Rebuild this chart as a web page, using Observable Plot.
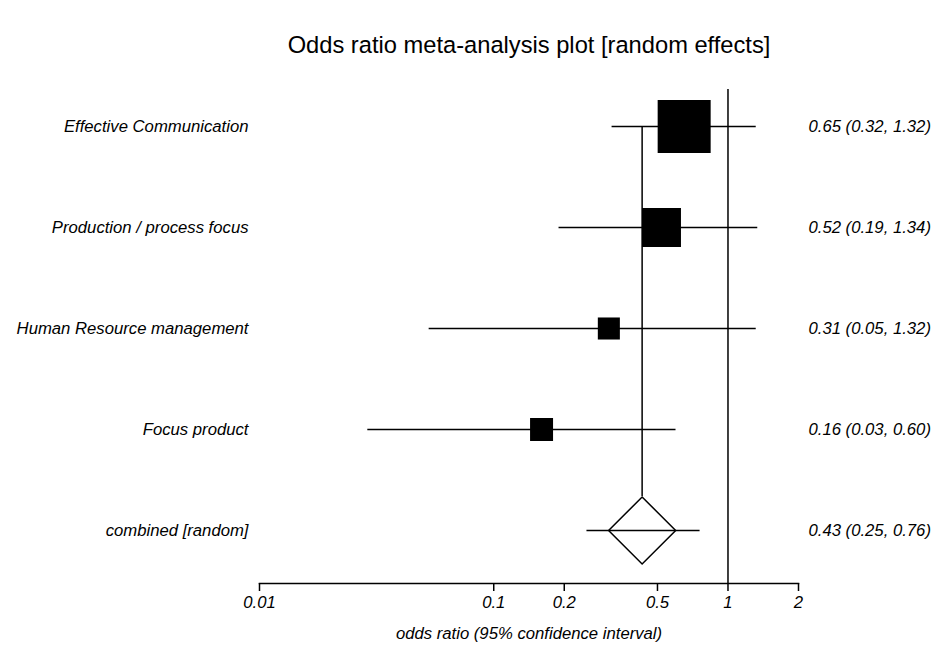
<!DOCTYPE html>
<html>
<head>
<meta charset="utf-8">
<script src="https://cdn.jsdelivr.net/npm/d3@7"></script>
<script src="https://cdn.jsdelivr.net/npm/@observablehq/plot@0.6"></script>
<style>
  html, body { margin: 0; padding: 0; background: #fff; }
  #wrap { width: 936px; height: 647px; position: relative; font-family: "Liberation Sans", Arial, sans-serif; }
  #title { position: absolute; left: 0; top: 0; width: 936px; height: 80px; line-height: 90px; box-sizing: border-box; padding-left: 122px; text-align: center; font-size: 23.7px; color: #000; white-space: nowrap; }
  #chart { position: absolute; left: 0; top: 80px; }
  #chart svg text { font-style: italic; }
</style>
</head>
<body>
<div id="wrap">
  <div id="title">Odds ratio meta-analysis plot [random effects]</div>
  <div id="chart"></div>
</div>
<script>
const studies = ["Effective Communication", "Production / process focus", "Human Resource management", "Focus product", "combined [random]"];
const oddsRatio = [0.65, 0.52, 0.31, 0.16, 0.43];
const ciLow = [0.32, 0.19, 0.053, 0.029, 0.25];
const ciHigh = [1.32, 1.34, 1.32, 0.60, 0.76];
const weights = [52.6, 28.5, 9.1, 9.9];
const xTicks = [0.01, 0.1, 0.2, 0.5, 1, 2];
const axisLabel = "odds ratio (95% confidence interval)";

const rows = studies.map((s, i) => ({
  study: s, or: oddsRatio[i], lo: ciLow[i], hi: ciHigh[i], w: weights[i],
  text: `${oddsRatio[i].toFixed(2)} (${ciLow[i].toFixed(2)}, ${ciHigh[i].toFixed(2)})`
}));
const studyRows = rows.slice(0, 4);
const combined = rows.slice(4);

const chart = Plot.plot({
  width: 936,
  height: 567,
  marginLeft: 259,
  marginRight: 138,
  marginTop: 9,
  marginBottom: 64,
  style: { fontFamily: "'Liberation Sans', Arial, sans-serif", fontSize: "16.7px", color: "#000", background: "#fff" },
  x: { type: "log", domain: [0.01, 2] },
  y: { type: "point", domain: studies, range: [45, 451], padding: 0, axis: null },
  r: { type: "sqrt", domain: [0, 52.6], range: [0, 53 / Math.sqrt(Math.PI)] },
  marks: [
    Plot.frame({ anchor: "bottom", strokeWidth: 1.5 }),
    Plot.ruleX([1], { strokeWidth: 1.5 }),
    Plot.ruleX(combined, { x: "or", y1: () => studies[0], y2: "study", insetBottom: 34, strokeWidth: 1.5 }),
    Plot.ruleY(rows, { y: "study", x1: "lo", x2: "hi", strokeWidth: 1.5 }),
    Plot.dot(studyRows, { x: "or", y: "study", r: "w", symbol: "square", fill: "#000", stroke: null }),
    Plot.dot(combined, { x: "or", y: "study", r: 30.2, symbol: "diamond2", fill: "none", stroke: "#000", strokeWidth: 1.5 }),
    Plot.text(rows, { y: "study", text: "study", frameAnchor: "left", dx: -11, textAnchor: "end", fill: "#000" }),
    Plot.text(rows, { y: "study", text: "text", frameAnchor: "right", dx: 10, textAnchor: "start", fill: "#000" }),
    Plot.axisX({ ticks: xTicks, tickFormat: d => String(d), tickSize: 8, tickPadding: 5, strokeWidth: 1.5, label: null, fill: "#000" }),
    Plot.text([axisLabel], { text: d => d, frameAnchor: "bottom", lineAnchor: "middle", dy: 50, fill: "#000" })
  ]
});
document.getElementById("chart").appendChild(chart);
</script>
</body>
</html>
